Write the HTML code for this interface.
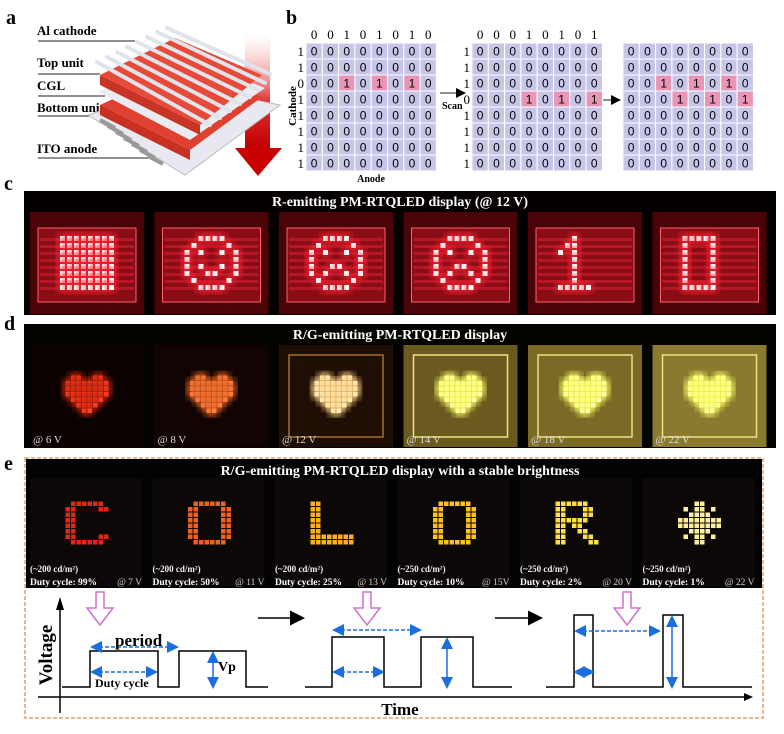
<!DOCTYPE html>
<html><head><meta charset="utf-8"><style>
html,body{margin:0;padding:0;background:#fff;}
svg{display:block;font-family:"Liberation Serif",serif;}
</style></head><body>
<svg id="s" width="784" height="734" viewBox="0 0 784 734" xmlns="http://www.w3.org/2000/svg">
<defs>
<filter id="gl" x="-30%" y="-30%" width="160%" height="160%"><feGaussianBlur stdDeviation="4"/></filter>
<linearGradient id="arr" x1="0" y1="0" x2="0" y2="1"><stop offset="0" stop-color="#fff" stop-opacity="0.3"/><stop offset="0.6" stop-color="#e03030"/><stop offset="1" stop-color="#c00000"/></linearGradient>
<marker id="ah" markerWidth="8" markerHeight="8" refX="6" refY="4" orient="auto-start-reverse"><path d="M0,0 L8,4 L0,8 z" fill="#1a6fe0"/></marker>
<marker id="kh" markerWidth="10" markerHeight="10" refX="8" refY="5" orient="auto"><path d="M0,0 L10,5 L0,10 z" fill="#000"/></marker>
</defs>
<!-- panel a -->
<text x="6" y="24" font-size="20" font-weight="bold">a</text>
<g font-size="13" font-weight="bold">
<text x="37" y="35">Al cathode</text><text x="37" y="67">Top unit</text><text x="37" y="90">CGL</text><text x="37" y="112">Bottom unit</text><text x="37" y="153">ITO anode</text>
</g>
<g stroke="#222" stroke-width="1">
<line x1="38" y1="41" x2="135" y2="41"/><line x1="38" y1="74" x2="100" y2="74"/><line x1="38" y1="96" x2="105" y2="96"/><line x1="38" y1="116" x2="110" y2="116"/><line x1="38" y1="158" x2="148" y2="158"/>
</g>
<rect x="245" y="33" width="25" height="115" fill="url(#arr)"/>
<polygon points="235,148 282,148 258,176" fill="#c80000"/>
<polygon points="88,115 180,85 280,105 185,175" fill="#e8e8f0" stroke="#bbb"/>
<g stroke="#999" stroke-width="4"><line x1="100" y1="120" x2="115" y2="128"/><line x1="108" y1="126" x2="123" y2="134"/><line x1="116" y1="132" x2="131" y2="140"/><line x1="124" y1="138" x2="139" y2="146"/><line x1="132" y1="144" x2="147" y2="152"/><line x1="140" y1="150" x2="155" y2="158"/><line x1="148" y1="156" x2="163" y2="164"/></g>
<polygon points="100,105 180,68 262,97 190,150" fill="#e04030"/>
<polygon points="100,105 190,150 190,160 100,115" fill="#c83020"/>
<polygon points="98,92 180,55 265,88 190,140" fill="#ecebf2"/>
<polygon points="100,75 175,38 262,75 200,125" fill="#e84a3a"/>
<polygon points="100,75 200,125 200,135 100,85" fill="#c83525"/>
<g stroke="#dfe3ea" stroke-width="4" stroke-linecap="round">
<line x1="97" y1="62" x2="210" y2="125"/><line x1="107" y1="57" x2="220" y2="118"/><line x1="117" y1="52" x2="230" y2="111"/><line x1="127" y1="47" x2="240" y2="104"/><line x1="137" y1="42" x2="250" y2="97"/><line x1="147" y1="37" x2="258" y2="90"/><line x1="157" y1="32" x2="265" y2="83"/><line x1="167" y1="28" x2="270" y2="74"/>
</g>
<!-- panel b -->
<text x="286" y="24" font-size="20" font-weight="bold">b</text>
<g id="bm"></g>
<text x="290" y="100" font-size="11" font-weight="bold" transform="rotate(-90 296 100)" text-anchor="middle">Cathode</text>
<text x="371" y="182" font-size="10" font-weight="bold" text-anchor="middle">Anode</text>
<text x="442" y="109" font-size="10" font-weight="bold">Scan</text>
<line x1="440" y1="93" x2="464" y2="93" stroke="#222" stroke-width="1" marker-end="url(#kh)"/>
<line x1="603" y1="100" x2="619" y2="100" stroke="#222" stroke-width="1" marker-end="url(#kh)"/>
<!-- panel c -->
<text x="4" y="190" font-size="20" font-weight="bold">c</text>
<rect x="24" y="191" width="752" height="124" fill="#050000"/>
<text x="400" y="206" font-size="14" font-weight="bold" fill="#fff" text-anchor="middle">R-emitting PM-RTQLED display (@ 12 V)</text>
<g id="pc"></g>
<!-- panel d -->
<text x="4" y="330" font-size="20" font-weight="bold">d</text>
<rect x="24" y="324" width="752" height="124" fill="#050300"/>
<text x="400" y="339" font-size="14" font-weight="bold" fill="#fff" text-anchor="middle">R/G-emitting PM-RTQLED display</text>
<g id="pd"></g>
<!-- panel e -->
<text x="4" y="470" font-size="20" font-weight="bold">e</text>
<rect x="25" y="458" width="738" height="260" fill="none" stroke="#e0a070" stroke-width="1.5" stroke-dasharray="4,2"/>
<rect x="26" y="459" width="736" height="129" fill="#030202"/>
<text x="400" y="475" font-size="14" font-weight="bold" fill="#fff" text-anchor="middle">R/G-emitting PM-RTQLED display with a stable brightness</text>
<g id="pe"></g>
<!-- waveforms -->
<line x1="60" y1="608" x2="60" y2="713" stroke="#000" stroke-width="1.5"/>
<polygon points="56,610 64,610 60,597" fill="#000"/>
<line x1="38" y1="697" x2="745" y2="697" stroke="#000" stroke-width="1.5"/>
<polygon points="744,693 753,697 744,701" fill="#000"/>
<text x="52" y="655" font-size="19" font-weight="bold" transform="rotate(-90 52 655)" text-anchor="middle">Voltage</text>
<text x="400" y="715" font-size="17" font-weight="bold" text-anchor="middle">Time</text>
<g fill="none" stroke="#000" stroke-width="1.5">
<polyline points="62,687 90,687 90,651 158,651 158,687 179,687 179,651 246,651 246,687 268,687"/>
<polyline points="305,687 332,687 332,637 384,637 384,687 421,687 421,637 473,637 473,687 512,687"/>
<polyline points="546,687 574,687 574,615 593,615 593,687 663,687 663,615 683,615 683,687 752,687"/>
</g>
<g stroke="#1a6fe0" stroke-width="1.5" fill="none">
<line x1="93" y1="647" x2="176" y2="647" stroke-dasharray="4,2" marker-start="url(#ah)" marker-end="url(#ah)"/>
<line x1="93" y1="672" x2="155" y2="672" stroke-dasharray="4,2" marker-start="url(#ah)" marker-end="url(#ah)"/>
<line x1="213" y1="654" x2="213" y2="686" marker-start="url(#ah)" marker-end="url(#ah)"/>
<line x1="335" y1="630" x2="419" y2="630" stroke-dasharray="4,2" marker-start="url(#ah)" marker-end="url(#ah)"/>
<line x1="335" y1="672" x2="382" y2="672" stroke-dasharray="4,2" marker-start="url(#ah)" marker-end="url(#ah)"/>
<line x1="447" y1="640" x2="447" y2="686" marker-start="url(#ah)" marker-end="url(#ah)"/>
<line x1="577" y1="631" x2="658" y2="631" stroke-dasharray="4,2" marker-start="url(#ah)" marker-end="url(#ah)"/>
<line x1="576" y1="672" x2="592" y2="672" marker-start="url(#ah)" marker-end="url(#ah)"/>
<line x1="672" y1="618" x2="672" y2="686" marker-start="url(#ah)" marker-end="url(#ah)"/>
</g>
<text x="115" y="646" font-size="17" font-weight="bold">period</text>
<text x="95" y="687" font-size="12" font-weight="bold">Duty cycle</text>
<text x="218" y="671" font-size="14" font-weight="bold">Vp</text>
<g fill="#fff" stroke="#d070d0" stroke-width="1.5">
<polygon points="96,592 104,592 104,608 113,608 100,625 87,608 96,608"/>
<polygon points="363,592 371,592 371,608 380,608 367,625 354,608 363,608"/>
<polygon points="623,592 631,592 631,608 640,608 627,625 614,608 623,608"/>
</g>
<line x1="258" y1="618" x2="302" y2="618" stroke="#000" stroke-width="1.5" marker-end="url(#kh)"/>
<line x1="495" y1="618" x2="540" y2="618" stroke="#000" stroke-width="1.5" marker-end="url(#kh)"/>
</svg>
<script>
var NS="http://www.w3.org/2000/svg",S=document.getElementById('s');
function el(p,t,a,txt){var e=document.createElementNS(NS,t);for(var k in a)e.setAttribute(k,a[k]);if(txt!=null)e.textContent=txt;p.appendChild(e);return e;}
var bm=document.getElementById('bm');
function mat(x0,rowHi,colLbl,rowLbl){
 var w=16.3,h=16;
 for(var r=0;r<8;r++)for(var c=0;c<8;c++){
  var one=(r==rowHi)&&(rowHi==2?(c==2||c==4||c==6):(c==3||c==5||c==7));
  var one2=Array.isArray(rowHi)&&((r==2&&(c==2||c==4||c==6))||(r==3&&(c==3||c==5||c==7)));
  var v=one||one2;
  el(bm,'rect',{x:x0+c*w,y:43+r*h,width:w,height:h,fill:v?'#e896b6':'#c7c6e8',stroke:'#fff','stroke-width':1});
  el(bm,'text',{x:x0+c*w+w/2,y:43+r*h+12.5,'font-size':12,'text-anchor':'middle','font-family':'Liberation Sans, sans-serif'},v?'1':'0');
 }
 if(colLbl)for(var c=0;c<8;c++)el(bm,'text',{x:x0+c*w+w/2,y:39,'font-size':13,'text-anchor':'middle'},colLbl[c]);
 if(rowLbl)for(var r=0;r<8;r++)el(bm,'text',{x:x0-2,y:43+r*h+13,'font-size':13,'text-anchor':'end'},rowLbl[r]);
}
mat(306,2,"00101010","11011111");
mat(472,3,"00010101","11101111");
mat(623,[2,3],null,null);
var P={
full:["11111111","11111111","11111111","11111111","11111111","11111111","11111111","11111111"],
smile:["00111100","01000010","10100101","10000001","10100101","10011001","01000010","00111100"],
neutral:["00111100","01000010","10100101","10000001","10011001","10100101","01000010","00111100"],
frown:["00111100","01000010","10100101","10000001","10011001","10100101","01000010","00111100"],
one:["00100000","01100000","10100000","00100000","00100000","00100000","00100000","11111000"],
zero:["11111000","10001000","10001000","10001000","10001000","10001000","10001000","11111000"],
heart:["01100110","11111111","11111111","11111111","01111110","00111100","00011000","00000000"],
C:["01111110","11000011","11000000","11000000","11000000","11000000","11000011","01111110"],
O:["01111110","11000011","11000011","11000011","11000011","11000011","11000011","01111110"],
L:["11000000","11000000","11000000","11000000","11000000","11000000","11111111","11111111"],
R:["11111100","11000110","11000110","11111100","11011000","11001100","11000110","11000011"],
X:["00011000","01011010","00111100","11111111","11111111","00111100","01011010","00011000"]
};
function led(g,cx,cy,step,dot,pat,col,glow){
 for(var r=0;r<8;r++)for(var c=0;c<8;c++)if(pat[r][c]=='1'){
  var x=cx+(c-3.5)*step-dot/2,y=cy+(r-3.5)*step-dot/2;
  if(glow)el(g,'rect',{x:x-2,y:y-2,width:dot+4,height:dot+4,fill:glow,filter:'url(#gl)'});
  el(g,'rect',{x:x,y:y,width:dot,height:dot,fill:col});
 }
}
var pc=document.getElementById('pc'),cp=['full','smile','neutral','frown','one','zero'];
for(var i=0;i<6;i++){
 var x=30+i*124.5,cx=x+57;
 el(pc,'rect',{x:x,y:212,width:114,height:102,fill:'#4a0306'});
 el(pc,'rect',{x:x+8,y:228,width:98,height:74,fill:'#8a0c14',stroke:'#ff6070','stroke-width':1});
 for(var r=0;r<8;r++)el(pc,'rect',{x:x+10,y:238+r*7,width:94,height:3,fill:'#d02030',opacity:0.6});
 led(pc,cx,263,7,5,P[cp[i]],'#fff2f2','#ff2030');
}
var pd=document.getElementById('pd'),bgd=['#0d0202','#120402','#1e0e04','#6a5a20','#7a6a25','#8a7a30'],cd=['#ff4020','#ff8040','#fff0c0','#ffffb0','#ffffb0','#ffffa0'],gd=['#c02010','#e06020','#ffd080','#ffff60','#ffff60','#ffff60'],vd=['6','8','12','14','18','22'];
for(var i=0;i<6;i++){
 var x=30+i*124.5,cx=x+57;
 el(pd,'rect',{x:x,y:345,width:114,height:102,fill:bgd[i]});
 if(i>=2)el(pd,'rect',{x:x+10,y:355,width:94,height:82,fill:'none',stroke:i>2?'#f0e080':'#a07030','stroke-width':1.5});
 led(pd,cx,397,5.5,4.5,P.heart,cd[i],gd[i]);
 el(pd,'text',{x:x+3,y:443,'font-size':11,fill:'#ddd'},'@ '+vd[i]+' V');
}
var pe=document.getElementById('pe'),ep=['C','O','L','O','R','X'],ce=['#e02818','#f06020','#ffb020','#ffc020','#ffe040','#fff0a0'],
lum=['200','200','200','250','250','250'],du=['99%','50%','25%','10%','2%','1%'],ve=['7 V','11 V','13 V','15V','20 V','22 V'];
for(var i=0;i<6;i++){
 var x=30+i*122.5,cx=x+57;
 el(pe,'rect',{x:x,y:478,width:112,height:108,fill:'#0c0808'});
 led(pe,cx,523,5.5,4.5,P[ep[i]],ce[i],null);
 el(pe,'text',{x:x,y:572,'font-size':9,'font-weight':'bold',fill:'#eee'},'(~'+lum[i]+' cd/m²)');
 el(pe,'text',{x:x,y:585,'font-size':9.5,'font-weight':'bold',fill:'#fff'},'Duty cycle: '+du[i]);
 el(pe,'text',{x:x+112,y:585,'font-size':9.5,fill:'#ccc','text-anchor':'end'},'@ '+ve[i]);
}
</script>
</body></html>
